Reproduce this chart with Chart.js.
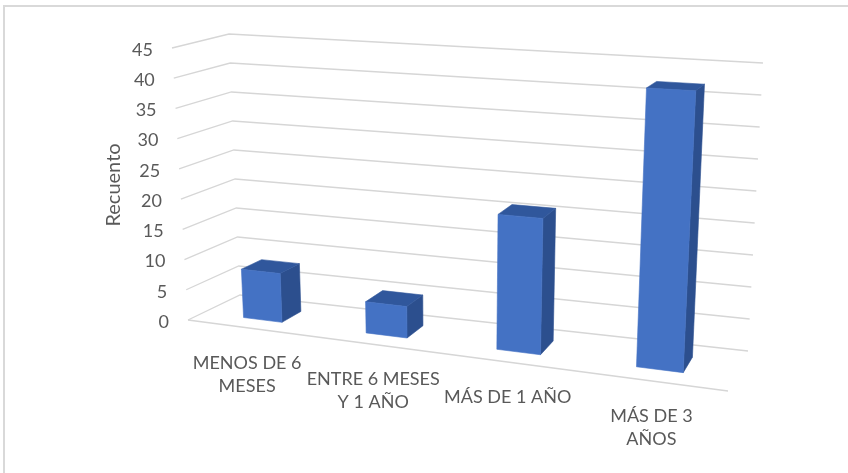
<!DOCTYPE html>
<html>
<head>
<meta charset="utf-8">
<script src="https://cdn.jsdelivr.net/npm/chart.js@4"></script>
<style>
  html, body { margin: 0; padding: 0; background: #fff; }
  #wrap { position: relative; width: 848px; height: 473px; }
</style>
</head>
<body>
<div id="wrap"><canvas id="tiempoChart" width="848" height="473"></canvas></div>
<script>
const categories = [['MENOS DE 6', 'MESES'], ['ENTRE 6 MESES', 'Y 1 AÑO'], ['MÁS DE 1 AÑO'], ['MÁS DE 3', 'AÑOS']];
const counts = [8, 5, 21, 42];
const yMin = 0;
const yMax = 45;
const yStep = 5;
const axisTitle = 'Recuento';

// where the 3D box (floor + left and back walls) lands on the canvas
const box = {
    flb: [188, 320], flt: [172, 48],
    frb: [728, 391], frt: [745, 78],
    blb: [240, 295], blt: [229, 34],
    brb: [748, 351], brt: [763, 63]
};
const persp = 1.14;          // right side sits closer to the viewer
const barDepth = [0.3, 0.7]; // front/back of the columns inside the floor

const lerp = (a, b, t) => [a[0] + (b[0] - a[0]) * t, a[1] + (b[1] - a[1]) * t];

const project = (u, v, w) => {
    const s = u / (persp - (persp - 1) * u);
    const fb = lerp(box.flb, box.frb, s), ft = lerp(box.flt, box.frt, s);
    const bb = lerp(box.blb, box.brb, s), bt = lerp(box.blt, box.brt, s);
    return lerp(lerp(fb, ft, v), lerp(bb, bt, v), w);
};

const poly = (ctx, pts, fill) => {
    ctx.beginPath();
    pts.forEach((p, i) => i ? ctx.lineTo(p[0], p[1]) : ctx.moveTo(p[0], p[1]));
    ctx.closePath();
    ctx.fillStyle = fill;
    ctx.fill();
    ctx.strokeStyle = fill;
    ctx.lineWidth = 0.6;
    ctx.stroke();
};

const columns3d = {
    id: 'columns3d',
    afterDraw(chart) {
        const ctx = chart.ctx;
        const area = chart.chartArea;
        const xs = chart.scales.x, ys = chart.scales.y;
        const toU = px => (px - area.left) / area.width;
        const toV = py => (area.bottom - py) / area.height;

        ctx.save();

        // outer frame
        ctx.strokeStyle = '#d9d9d9';
        ctx.lineWidth = 2;
        ctx.beginPath();
        ctx.moveTo(4, 473);
        ctx.lineTo(4, 6);
        ctx.lineTo(848, 6);
        ctx.stroke();

        // gridlines on the side and back walls + value labels
        let ticks = ys.ticks.map(t => t.value);
        if (!ticks.length) {
            ticks = [];
            for (let t = yMin; t <= yMax; t += yStep) ticks.push(t);
        }
        ctx.lineWidth = 1.3;
        ctx.strokeStyle = '#d6d6d6';
        ctx.fillStyle = '#595959';
        ctx.font = '18px Lato';
        ctx.textAlign = 'right';
        ctx.textBaseline = 'middle';
        ticks.forEach(t => {
            const v = toV(ys.getPixelForValue(t));
            const a = project(0, v, 0), b = project(0, v, 1), c = project(1, v, 1);
            ctx.beginPath();
            ctx.moveTo(a[0], a[1]);
            ctx.lineTo(b[0], b[1]);
            ctx.lineTo(c[0], c[1]);
            ctx.stroke();
            ctx.fillText(String(t), a[0] - 19, a[1] + 2);
        });

        // front edge of the floor
        const f0 = project(0, 0, 0), f1 = project(1, 0, 0);
        ctx.beginPath();
        ctx.moveTo(f0[0], f0[1]);
        ctx.lineTo(f1[0], f1[1]);
        ctx.stroke();

        // columns
        const [w0, w1] = barDepth;
        chart.getDatasetMeta(0).data.forEach(el => {
            const u0 = toU(el.x - el.width / 2), u1 = toU(el.x + el.width / 2);
            const v0 = toV(el.base), v1 = toV(el.y);
            poly(ctx, [project(u1, v0, w0), project(u1, v0, w1), project(u1, v1, w1), project(u1, v1, w0)], '#2c4f8e');
            poly(ctx, [project(u0, v1, w0), project(u1, v1, w0), project(u1, v1, w1), project(u0, v1, w1)], '#30579c');
            poly(ctx, [project(u0, v0, w0), project(u1, v0, w0), project(u1, v1, w0), project(u0, v1, w0)], '#4472c4');
        });

        // category labels under the floor edge
        ctx.fillStyle = '#595959';
        ctx.font = '18px Lato';
        ctx.textAlign = 'center';
        categories.forEach((lines, i) => {
            const p = project(toU(xs.getPixelForValue(i)), 0, 0);
            lines.forEach((line, k) => ctx.fillText(line, p[0] - 1, p[1] + 35 + k * 23));
        });

        // axis title
        ctx.font = '20px Lato';
        ctx.translate(114, 185);
        ctx.rotate(-Math.PI / 2);
        ctx.fillText(axisTitle, 0, 0);

        ctx.restore();
    }
};

new Chart(document.getElementById('tiempoChart').getContext('2d'), {
    type: 'bar',
    data: {
        labels: categories,
        datasets: [{
            label: axisTitle,
            data: counts,
            backgroundColor: 'rgba(0,0,0,0)',
            borderWidth: 0,
            barPercentage: 0.32,
            categoryPercentage: 1
        }]
    },
    options: {
        responsive: false,
        animation: false,
        layout: { padding: 0 },
        plugins: {
            legend: { display: false },
            tooltip: { enabled: false }
        },
        scales: {
            x: { display: false },
            y: { display: false, min: yMin, max: yMax, ticks: { stepSize: yStep } }
        }
    },
    plugins: [columns3d]
});
</script>
</body>
</html>
